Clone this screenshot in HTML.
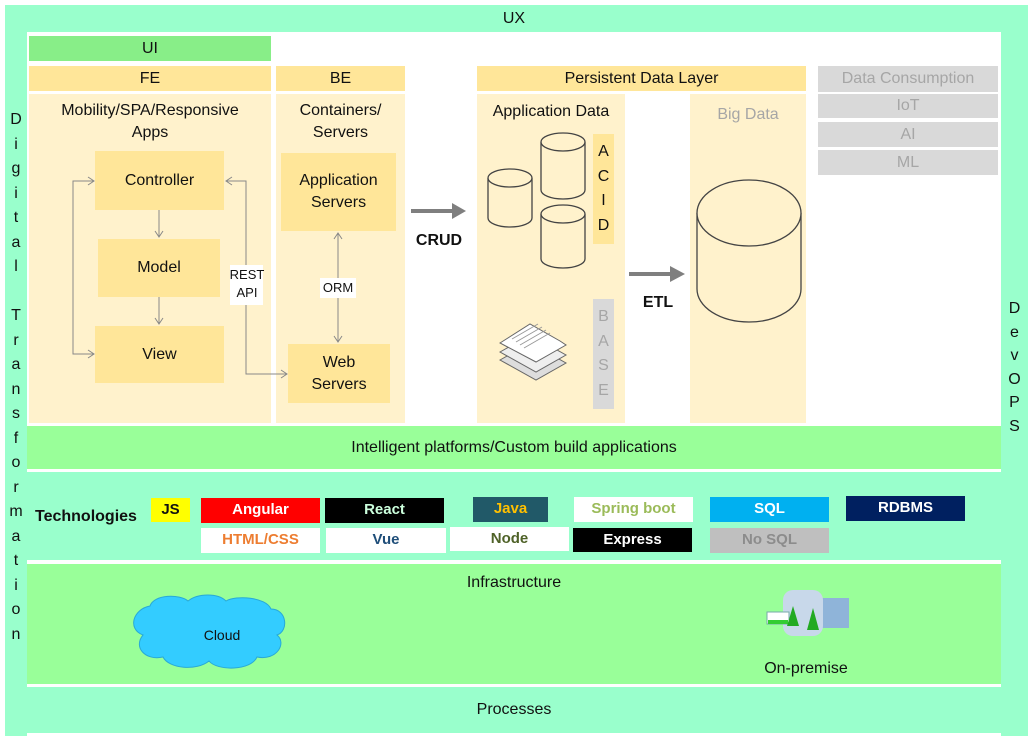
<!DOCTYPE html>
<html><head><meta charset="utf-8"><style>
body{margin:0;width:1033px;height:736px;background:#fff;position:relative;overflow:hidden;font-family:"Liberation Sans",sans-serif;color:#111}
div{position:absolute;box-sizing:border-box}
svg{z-index:1}
.c,.b,.vt{z-index:2}
.c{display:flex;align-items:center;justify-content:center;text-align:center;line-height:1.35}
.mint{background:#99ffcc}.grn{background:#99ff99}.hd{background:#ffe699}.bd{background:#fff2cc}.bx{background:#ffe699}
.gr{background:#d9d9d9;color:#a6a6a6}
.vt{font-size:16px;line-height:24.5px;text-align:center}
.b{font-weight:bold;font-size:15px}
</style></head><body>
<div class="mint" style="left:5px;top:5px;width:22px;height:731px"></div>
<div class="mint" style="left:1001px;top:5px;width:27px;height:731px"></div>
<div class="mint c" style="left:27px;top:5px;width:974px;height:27px;font-size:16px">UX</div>
<div class="vt" style="left:5px;top:108px;width:22px">D<br>i<br>g<br>i<br>t<br>a<br>l<br><br>T<br>r<br>a<br>n<br>s<br>f<br>o<br>r<br>m<br>a<br>t<br>i<br>o<br>n</div>
<div class="vt" style="left:1001px;top:297px;width:27px;line-height:23.5px">D<br>e<br>v<br>O<br>P<br>S</div>

<div class="grn c" style="left:29px;top:36px;width:242px;height:25px;font-size:16px;background:#88ee88">UI</div>
<div class="hd c" style="left:29px;top:66px;width:242px;height:25px;font-size:16px">FE</div>
<div class="hd c" style="left:276px;top:66px;width:129px;height:25px;font-size:16px">BE</div>
<div class="bd" style="left:29px;top:94px;width:242px;height:329px"></div>
<div class="bd" style="left:276px;top:94px;width:129px;height:329px"></div>
<div class="bd" style="left:477px;top:94px;width:148px;height:329px"></div>
<div class="bd" style="left:690px;top:94px;width:116px;height:329px"></div>
<div class="grn" style="left:27px;top:564px;width:974px;height:120px"></div>
<div class="mint" style="left:27px;top:472px;width:974px;height:88px"></div>
<div class="c" style="left:29px;top:100px;width:242px;font-size:16px">Mobility/SPA/Responsive<br>Apps</div>
<div class="c" style="left:276px;top:100px;width:129px;font-size:16px">Containers/<br>Servers</div>
<div class="bx c" style="left:95px;top:151px;width:129px;height:59px;font-size:16px">Controller</div>
<div class="bx c" style="left:98px;top:239px;width:122px;height:58px;font-size:16px">Model</div>
<div class="bx c" style="left:95px;top:326px;width:129px;height:57px;font-size:16px">View</div>
<div class="bx c" style="left:281px;top:153px;width:115px;height:78px;font-size:16px">Application<br>Servers</div>
<div class="bx c" style="left:288px;top:344px;width:102px;height:59px;font-size:16px">Web<br>Servers</div>
<svg style="position:absolute;left:0;top:0" width="1033" height="736">
<g stroke="#888" fill="none" stroke-width="1">
<path d="M94 181H73V354H94M88 177l6 4-6 4M88 350l6 4-6 4"/>
<path d="M159 210V237M155 231l4 6 4-6M159 297V324M155 318l4 6 4-6"/>
<path d="M226 181H246V374H287M232 177l-6 4 6 4M281 370l6 4-6 4"/>
<path d="M338 233V342M334 239l4-6 4 6M334 336l4 6 4-6"/>
</g>
<g fill="#7f7f7f"><rect x="411" y="209" width="43" height="4"/><path d="M452 203l14 8-14 8z"/>
<rect x="629" y="272" width="43" height="4"/><path d="M670 266l15 8-15 8z"/></g>
<g stroke="#444" fill="#fff2cc" stroke-width="1.3">
<path d="M488 178v40a22 9 0 0 0 44 0v-40"/><ellipse cx="510" cy="178" rx="22" ry="9"/>
<path d="M541 142v48a22 9 0 0 0 44 0v-48"/><ellipse cx="563" cy="142" rx="22" ry="9"/>
<path d="M541 214v45a22 9 0 0 0 44 0v-45"/><ellipse cx="563" cy="214" rx="22" ry="9"/>
<path d="M697 213v76a52 33 0 0 0 104 0v-76"/><ellipse cx="749" cy="213" rx="52" ry="33"/>
</g>
<g stroke="#666" stroke-width="1">
<path d="M500 360l30-17 36 20-30 17z" fill="#ddd"/>
<path d="M500 352l30-17 36 20-30 17z" fill="#eee"/>
<path d="M500 343l30-19 30 17 6 4-30 17z" fill="#fff"/>
<path d="M512 339l26-15M516 342l26-15M520 345l26-15M524 348l26-15" stroke="#999"/>
</g>
<rect x="230" y="265" width="33" height="40" fill="#fff"/>
<rect x="320" y="278" width="36" height="20" fill="#fff"/>
<path d="M150 606c4-12 30-12 38-5 10-8 30-8 38 0 10-6 40-4 45 8 16 0 18 22 6 26 10 8 0 26-20 22-6 14-40 14-48 4-12 10-40 8-46-4-18 4-30-10-20-22-16-6-10-26 7-29z" fill="#33ccff" stroke="#29a9d6"/>
<g transform="translate(765,584)">
<rect x="48" y="14" width="36" height="30" fill="#8fb4d9"/>
<rect x="18" y="6" width="40" height="46" rx="10" fill="#c8d8ea"/>
<rect x="2" y="28" width="22" height="12" fill="#fff" stroke="#7aa"/>
<rect x="3" y="36" width="20" height="4" fill="#3c3"/>
<path d="M22 42l6-20 6 20zM42 46l6-22 6 22z" fill="#2a2"/>
</g>
</svg>
<div class="c" style="left:229px;top:266px;width:36px;font-size:13px;line-height:18px">REST<br>API</div>
<div class="c" style="left:318px;top:279px;width:40px;font-size:13px">ORM</div>
<div class="c b" style="left:408px;top:230px;width:62px;font-size:16px">CRUD</div>
<div class="c b" style="left:633px;top:292px;width:50px;font-size:16px">ETL</div>

<div class="hd c" style="left:477px;top:66px;width:329px;height:25px;font-size:16px">Persistent Data Layer</div>
<div class="c" style="left:477px;top:101px;width:148px;font-size:16px">Application Data</div>
<div class="c" style="left:690px;top:104px;width:116px;font-size:16px;color:#a6a6a6">Big Data</div>
<div class="bx vt" style="left:593px;top:134px;width:21px;height:110px;padding-top:6px;line-height:24.5px">A<br>C<br>I<br>D</div>
<div class="gr vt" style="left:593px;top:299px;width:21px;height:110px;padding-top:6px;line-height:24.5px">B<br>A<br>S<br>E</div>
<div class="gr c" style="left:818px;top:66px;width:180px;height:26px;font-size:16px">Data Consumption</div>
<div class="gr c" style="left:818px;top:94px;width:180px;height:24px;font-size:16px">IoT</div>
<div class="gr c" style="left:818px;top:122px;width:180px;height:25px;font-size:16px">AI</div>
<div class="gr c" style="left:818px;top:150px;width:180px;height:25px;font-size:16px">ML</div>

<div class="grn c" style="left:27px;top:426px;width:974px;height:43px;font-size:16px">Intelligent platforms/Custom build applications</div>
<div class="b" style="left:35px;top:508px;font-size:16px">Technologies</div>
<div class="c b" style="left:151px;top:498px;width:39px;height:24px;background:#ffff00">JS</div>
<div class="c b" style="left:201px;top:498px;width:119px;height:25px;background:#ff0000;color:#fff">Angular</div>
<div class="c b" style="left:325px;top:498px;width:119px;height:25px;background:#000;color:#ccffdd">React</div>
<div class="c b" style="left:473px;top:497px;width:75px;height:25px;background:#215968;color:#ffc000">Java</div>
<div class="c b" style="left:574px;top:497px;width:119px;height:25px;background:#fff;color:#9bbb59">Spring boot</div>
<div class="c b" style="left:710px;top:497px;width:119px;height:25px;background:#00b0f0;color:#fff">SQL</div>
<div class="c b" style="left:846px;top:496px;width:119px;height:25px;background:#002060;color:#fff">RDBMS</div>
<div class="c b" style="left:201px;top:528px;width:119px;height:25px;background:#fff;color:#ed7d31">HTML/CSS</div>
<div class="c b" style="left:326px;top:528px;width:120px;height:25px;background:#fff;color:#1f4e79">Vue</div>
<div class="c b" style="left:450px;top:527px;width:119px;height:24px;background:#fff;color:#4f6228">Node</div>
<div class="c b" style="left:573px;top:528px;width:119px;height:24px;background:#000;color:#fff">Express</div>
<div class="c b" style="left:710px;top:528px;width:119px;height:25px;background:#bfbfbf;color:#8c8c8c">No SQL</div>

<div class="c" style="left:27px;top:572px;width:974px;font-size:16px">Infrastructure</div>
<div class="c" style="left:180px;top:626px;width:84px;font-size:14px">Cloud</div>
<div class="c" style="left:750px;top:658px;width:112px;font-size:16px">On-premise</div>
<div class="mint c" style="left:27px;top:687px;width:974px;height:46px;font-size:16px">Processes</div>
</body></html>
